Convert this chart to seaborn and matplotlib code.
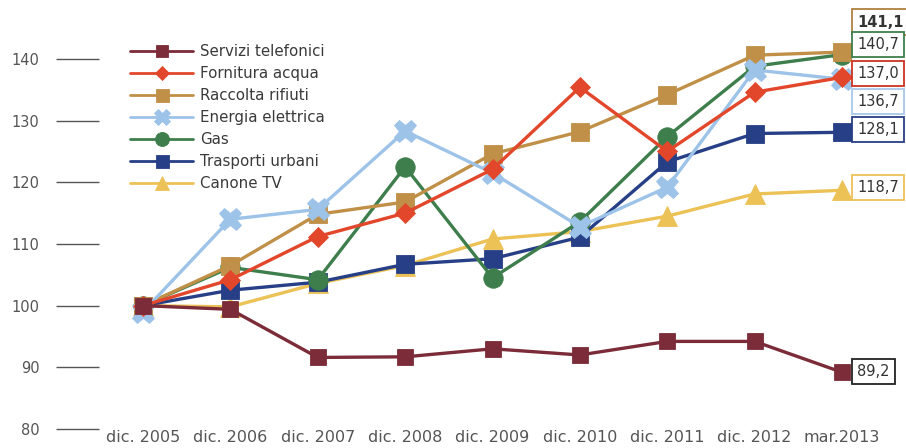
import matplotlib
matplotlib.use("Agg")
import matplotlib.pyplot as plt
import seaborn as sns
import pandas as pd

periods = ["dic. 2005", "dic. 2006", "dic. 2007", "dic. 2008", "dic. 2009",
           "dic. 2010", "dic. 2011", "dic. 2012", "mar.2013"]

servizi_telefonici = [100.0, 99.4, 91.6, 91.7, 93.0, 92.0, 94.2, 94.2, 89.2]
fornitura_acqua = [100.0, 104.2, 111.2, 115.0, 122.1, 135.4, 125.0, 134.6, 137.0]
raccolta_rifiuti = [100.0, 106.5, 114.8, 116.8, 124.6, 128.2, 134.2, 140.6, 141.1]
energia_elettrica = [99.0, 114.0, 115.6, 128.3, 121.5, 112.8, 119.2, 138.2, 136.7]
gas = [100.0, 106.2, 104.2, 122.5, 104.5, 113.6, 127.4, 138.8, 140.7]
trasporti_urbani = [100.0, 102.5, 103.8, 106.7, 107.6, 111.1, 123.3, 127.9, 128.1]
canone_tv = [100.0, 99.8, 103.6, 106.5, 110.8, 112.0, 114.5, 118.1, 118.7]

series_names = ["Servizi telefonici", "Fornitura acqua", "Raccolta rifiuti",
                "Energia elettrica", "Gas", "Trasporti urbani", "Canone TV"]
series_values = [servizi_telefonici, fornitura_acqua, raccolta_rifiuti,
                 energia_elettrica, gas, trasporti_urbani, canone_tv]
end_labels = ["89,2", "137,0", "141,1", "136,7", "140,7", "128,1", "118,7"]

colors = ["#7b2c38", "#e2472b", "#c19048", "#9dc3e9", "#3e7e4c", "#263f86", "#ecc257"]
markers = ["s", "D", "s", "X", "o", "s", "^"]
msizes = [12, 10, 13, 16, 14, 13, 14]
zorders = [9, 8, 6, 7, 5, 4, 3]
# label vertical offsets in pixels (layout)
label_dy = [1, 4, 30, -22, 10, 3, 3]
label_edge = ["#222222", "#cc3322", "#b08040", "#a8c8ea", "#3e7e4c", "#263f86", "#ecc257"]
label_weight = ["normal", "normal", "bold", "normal", "normal", "normal", "normal"]

rows = []
for name, vals in zip(series_names, series_values):
    for i, v in enumerate(vals):
        rows.append({"serie": name, "x": i, "v": v})
df = pd.DataFrame(rows)

sns.set_theme(style="white")
plt.rcParams["font.family"] = ["DejaVu Sans"]

fig = plt.figure(figsize=(9.06, 4.48), dpi=100)
ax = fig.add_axes([0.1096, 0.0424, 0.868, 0.957])

for name, col, mk, ms, z in zip(series_names, colors, markers, msizes, zorders):
    sub = df[df["serie"] == name]
    sns.lineplot(data=sub, x="x", y="v", ax=ax, color=col, marker=mk,
                 markersize=ms, linewidth=2.4, markeredgewidth=0.6,
                 markeredgecolor=col, label=name, zorder=z)

ax.set_xlim(-0.5, 8.5)
ax.set_ylim(80, 149.5)
ax.set_xticks(range(len(periods)))
ax.set_xticklabels(periods)
ax.set_yticks([80, 90, 100, 110, 120, 130, 140])
ax.set_xlabel("")
ax.set_ylabel("")
for s in ax.spines.values():
    s.set_visible(False)
ax.tick_params(axis="y", length=31, width=1.0, color="#555555", pad=12,
               labelsize=10.5, labelcolor="#555555", direction="out", left=True)
ax.tick_params(axis="x", length=0, pad=1, labelsize=11.5, labelcolor="#555555")

# end labels
for vals, txt, dy, ec, w in zip(series_values, end_labels, label_dy, label_edge, label_weight):
    ax.annotate(txt, xy=(8, vals[-1]), xytext=(11, dy * 0.72),
                textcoords="offset points", ha="left", va="center",
                fontsize=10.5, color="#333333", fontweight=w, annotation_clip=False,
                bbox=dict(boxstyle="square,pad=0.35", fc="white", ec=ec, lw=1.3),
                zorder=20)

leg = ax.legend(loc="upper left", bbox_to_anchor=(130 / 906, 1 - 44 / 448),
                bbox_transform=fig.transFigure, frameon=False, fontsize=10.8,
                handlelength=4.2, labelspacing=0.47, handletextpad=0.5,
                borderpad=0, borderaxespad=0, markerscale=0.72)
for t in leg.get_texts():
    t.set_color("#3a3a3a")
for h in leg.get_lines():
    h.set_linewidth(2.0)

fig.savefig("out.png", dpi=100)
